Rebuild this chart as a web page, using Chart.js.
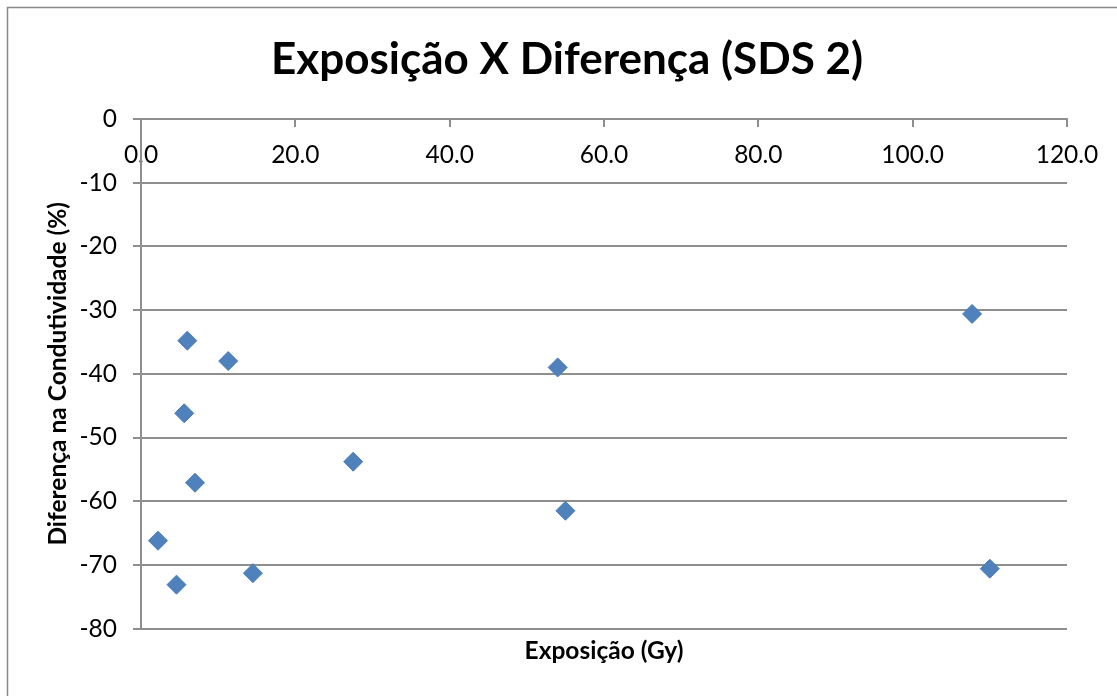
<!DOCTYPE html>
<html>
<head>
<meta charset="utf-8">
<script src="https://cdn.jsdelivr.net/npm/chart.js@4.4.1/dist/chart.umd.min.js"></script>
<style>
body { margin: 0; background: #fff; }
</style>
</head>
<body>
<canvas id="chart" width="1117" height="696"></canvas>
<script>
const chartTitle = 'Exposição X Diferença (SDS 2)';
const xTitle = 'Exposição (Gy)';
const yTitle = 'Diferença na Condutividade (%)';

// Exposição (Gy) x Diferença (%)
const exposicao = [2.2, 4.6, 5.6, 6.0, 7.0, 11.3, 14.5, 27.5, 54.0, 55.0, 107.7, 110.0];
const diferenca = [-66.2, -73.1, -46.2, -34.8, -57.1, -38.0, -71.3, -53.8, -39.0, -61.5, -30.6, -70.6];

const xTicks = [0, 20, 40, 60, 80, 100, 120];
const yTicks = [0, -10, -20, -30, -40, -50, -60, -70, -80];

const FONT = 'Lato, Carlito, Calibri, sans-serif';
const GRID = '#8e8e8e';

// borda da área do gráfico + título principal
const frame = {
	id: 'frame',
	beforeDraw(chart) {
		const ctx = chart.ctx;
		ctx.save();
		ctx.fillStyle = '#fff';
		ctx.fillRect(0, 0, chart.width, chart.height);
		ctx.strokeStyle = '#888';
		ctx.lineWidth = 1.5;
		ctx.strokeRect(7.5, 7.5, 1300, 900);
		ctx.restore();
	},
	afterDraw(chart) {
		const ctx = chart.ctx;
		ctx.save();
		ctx.font = 'bold 44px ' + FONT;
		ctx.fillStyle = '#000';
		ctx.textAlign = 'center';
		ctx.textBaseline = 'middle';
		ctx.fillText(chartTitle, 567, 60);
		ctx.restore();
	},
};

const points = exposicao.map((x, i) => ({ x: x, y: diferenca[i] }));

new Chart(document.getElementById('chart'), {
	type: 'scatter',
	data: {
		datasets: [
			{
				data: points,
				pointStyle: 'rectRot',
				pointRadius: 9.5,
				pointHoverRadius: 9.5,
				backgroundColor: '#4F81BD',
				borderColor: '#4A7EBB',
				borderWidth: 1,
			},
		],
	},
	options: {
		responsive: false,
		animation: false,
		layout: { padding: { left: 0, right: 50, top: 119, bottom: 0 } },
		plugins: {
			legend: { display: false },
			tooltip: { enabled: false },
			title: { display: false },
			subtitle: {
				display: true,
				position: 'bottom',
				fullSize: false,
				text: xTitle,
				color: '#000',
				font: { family: FONT, size: 24.5, weight: 'bold' },
				padding: { top: 8, bottom: 30 },
			},
		},
		scales: {
			x: {
				type: 'linear',
				position: { y: 0 },
				min: 0,
				max: 120,
				afterBuildTicks: (s) => { s.ticks = xTicks.map((v) => ({ value: v })); },
				ticks: {
					color: '#000',
					font: { family: FONT, size: 24.5 },
					padding: 14,
					maxRotation: 0,
					callback: (v) => Number(v).toFixed(1),
				},
				grid: {
					drawOnChartArea: false,
					drawTicks: true,
					tickLength: 7,
					color: GRID,
					lineWidth: 2,
				},
				border: { display: true, color: GRID, width: 2 },
			},
			y: {
				type: 'linear',
				min: -80,
				max: 0,
				afterBuildTicks: (s) => { s.ticks = yTicks.map((v) => ({ value: v })); },
				afterFit: (s) => { s.width = 141; },
				ticks: {
					color: '#000',
					font: { family: FONT, size: 24.5 },
					padding: 16,
				},
				grid: {
					color: GRID,
					lineWidth: 2,
					tickLength: 8,
				},
				border: { display: true, color: GRID, width: 2 },
				title: {
					display: true,
					text: yTitle,
					color: '#000',
					font: { family: FONT, size: 24.5, weight: 'bold' },
					padding: { top: 43, bottom: 0 },
				},
			},
		},
	},
	plugins: [frame],
});
</script>
</body>
</html>
